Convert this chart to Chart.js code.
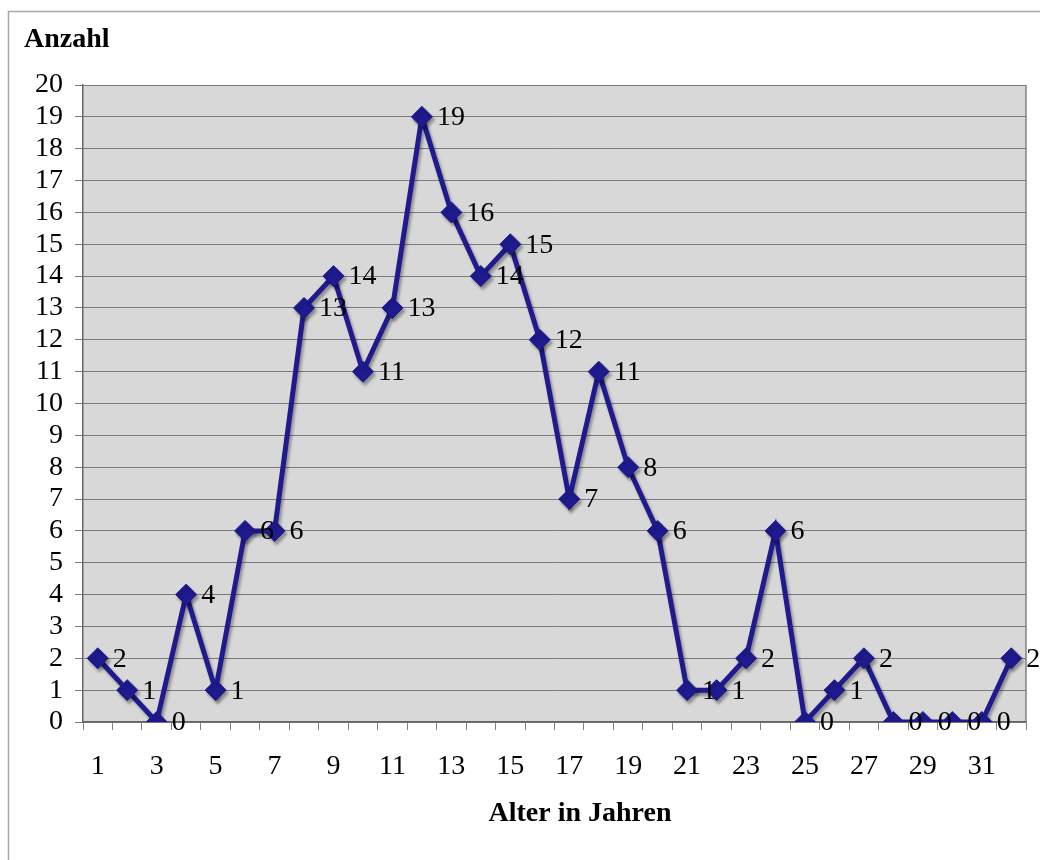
<!DOCTYPE html>
<html>
<head>
<meta charset="utf-8">
<script src="https://cdn.jsdelivr.net/npm/chart.js@4/dist/chart.umd.min.js"></script>
<style>
  html, body { margin: 0; padding: 0; background: #ffffff; }
  #wrap { width: 1040px; height: 860px; position: relative; }
</style>
</head>
<body>
<div id="wrap"><canvas id="c" width="1040" height="860"></canvas></div>
<script>
// Alter in Jahren (Kategorien)
const ageLabels = ['1','2','3','4','5','6','7','8','9','10','11','12','13','14','15','16',
                   '17','18','19','20','21','22','23','24','25','26','27','28','29','30','31','32'];
// Anzahl je Alter
const counts = [2, 1, 0, 4, 1, 6, 6, 13, 14, 11, 13, 19, 16, 14, 15, 12,
                7, 11, 8, 6, 1, 1, 2, 6, 0, 1, 2, 0, 0, 0, 0, 2];
// Achsentitel
const yTitle = 'Anzahl';
const xTitle = 'Alter in Jahren';

const SERIF = '"Liberation Serif", "Times New Roman", "DejaVu Serif", serif';
const LINE_COLOR = '#1f1a8e';

// Rahmen, Plotfläche und Achsentitel
const decorPlugin = {
  id: 'decor',
  beforeDraw(chart) {
    const { ctx, chartArea: a } = chart;
    ctx.save();
    // äußerer Rahmen
    ctx.strokeStyle = '#a8a8a8';
    ctx.lineWidth = 1.5;
    ctx.beginPath();
    ctx.moveTo(8.5, 860);
    ctx.lineTo(8.5, 11.5);
    ctx.lineTo(1040, 11.5);
    ctx.stroke();
    // graue Plotfläche
    ctx.fillStyle = '#d8d8d8';
    ctx.fillRect(a.left, a.top, a.right - a.left, a.bottom - a.top);
    ctx.restore();
  },
  afterDraw(chart) {
    const { ctx, chartArea: a } = chart;
    ctx.save();
    ctx.strokeStyle = '#808080';
    ctx.lineWidth = 1.5;
    ctx.beginPath();
    ctx.moveTo(a.right, a.top);
    ctx.lineTo(a.right, a.bottom);
    ctx.stroke();
    ctx.fillStyle = '#000';
    ctx.font = 'bold 28px ' + SERIF;
    ctx.textBaseline = 'alphabetic';
    ctx.textAlign = 'left';
    ctx.fillText(yTitle, 24, 47);
    ctx.textAlign = 'center';
    ctx.fillText(xTitle, 580, 821);
    ctx.restore();
  }
};

// Schatten unter Linie und Markern
const shadowPlugin = {
  id: 'shadow',
  beforeDatasetsDraw(chart) {
    const ctx = chart.ctx;
    ctx.save();
    ctx.shadowColor = 'rgba(0,0,0,0.35)';
    ctx.shadowBlur = 3;
    ctx.shadowOffsetX = 2;
    ctx.shadowOffsetY = 3;
  },
  afterDatasetsDraw(chart) {
    chart.ctx.restore();
  }
};

// Wertebeschriftung rechts neben jedem Punkt
const valueLabelPlugin = {
  id: 'valueLabels',
  afterDatasetsDraw(chart) {
    const { ctx } = chart;
    const meta = chart.getDatasetMeta(0);
    const data = chart.data.datasets[0].data;
    ctx.save();
    ctx.fillStyle = '#000';
    ctx.font = '28px ' + SERIF;
    ctx.textAlign = 'left';
    ctx.textBaseline = 'middle';
    meta.data.forEach((pt, i) => {
      ctx.fillText(String(data[i]), pt.x + 15, pt.y + 1);
    });
    ctx.restore();
  }
};

new Chart(document.getElementById('c'), {
  type: 'line',
  data: {
    labels: ageLabels,
    datasets: [{
      data: counts,
      borderColor: LINE_COLOR,
      backgroundColor: LINE_COLOR,
      borderWidth: 5,
      pointStyle: 'rectRot',
      pointRadius: 10.5,
      pointBorderWidth: 1,
      pointBackgroundColor: LINE_COLOR,
      pointBorderColor: LINE_COLOR,
      tension: 0,
      fill: false
    }]
  },
  options: {
    responsive: false,
    animation: false,
    devicePixelRatio: 1,
    layout: { padding: { left: 0, top: 85, right: 14, bottom: 0 } },
    plugins: {
      legend: { display: false },
      tooltip: { enabled: false },
      title: { display: false }
    },
    scales: {
      x: {
        type: 'category',
        offset: true,
        grid: {
          offset: true,
          drawOnChartArea: false,
          drawTicks: true,
          tickLength: 8,
          color: '#808080',
          lineWidth: 1
        },
        border: { display: true, color: '#666666', width: 1.5 },
        ticks: {
          autoSkip: false,
          maxRotation: 0,
          minRotation: 0,
          padding: 20,
          color: '#000',
          font: { family: SERIF, size: 28 },
          callback: function (v, i) { return i % 2 === 0 ? this.getLabelForValue(v) : ''; }
        },
        afterFit(scale) { scale.height = 138; }
      },
      y: {
        min: 0,
        max: 20,
        grid: {
          color: '#7a7a7a',
          lineWidth: 1,
          drawTicks: true,
          tickLength: 8
        },
        border: { display: true, color: '#666666', width: 1.5 },
        ticks: {
          stepSize: 1,
          autoSkip: false,
          padding: 12,
          color: '#000',
          font: { family: SERIF, size: 28 }
        },
        afterFit(scale) { scale.width = 83; }
      }
    }
  },
  plugins: [decorPlugin, shadowPlugin, valueLabelPlugin]
});
</script>
</body>
</html>
